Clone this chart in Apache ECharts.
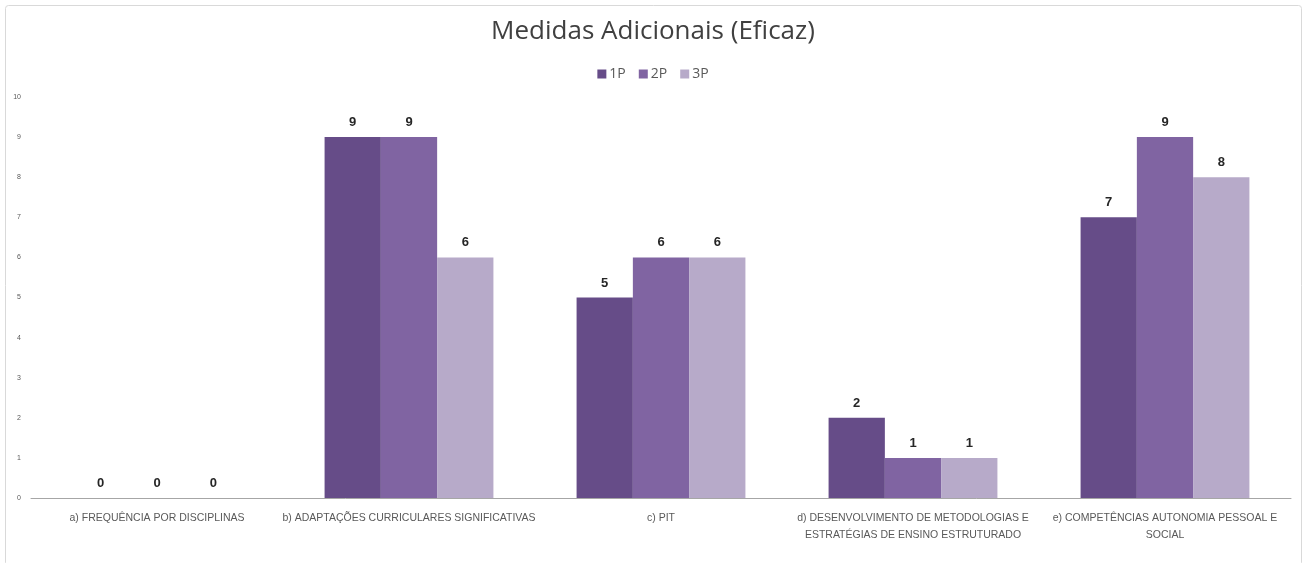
<!DOCTYPE html>
<html>
<head>
<meta charset="utf-8">
<script src="https://cdn.jsdelivr.net/npm/echarts@6/dist/echarts.min.js"></script>
<style>
  html, body { margin: 0; padding: 0; background: #fff; }
  #chart { width: 1306px; height: 563px; }
</style>
</head>
<body>
<div id="chart"></div>
<script>
// Categories and per-period counts
const categories = [
  'a) FREQUÊNCIA POR DISCIPLINAS',
  'b) ADAPTAÇÕES CURRICULARES SIGNIFICATIVAS',
  'c) PIT',
  'd) DESENVOLVIMENTO DE METODOLOGIAS E\nESTRATÉGIAS DE ENSINO ESTRUTURADO',
  'e) COMPETÊNCIAS AUTONOMIA PESSOAL E\nSOCIAL'
];
const seriesNames = ['1P', '2P', '3P'];
const values1P = [0, 9, 5, 2, 7];
const values2P = [0, 9, 6, 1, 9];
const values3P = [0, 6, 6, 1, 8];
const yTicks = [0, 1, 2, 3, 4, 5, 6, 7, 8, 9, 10];

const colors = ['#664c88', '#8064a2', '#b7aac9'];
const allValues = [values1P, values2P, values3P];

const chart = echarts.init(document.getElementById('chart'), null, { renderer: 'canvas' });

const labelStyle = {
  show: true,
  position: 'top',
  distance: 8,
  color: '#262626',
  fontWeight: 'bold',
  fontSize: 13,
  fontFamily: '"Liberation Sans", Arial, sans-serif'
};

chart.setOption({
  backgroundColor: '#ffffff',
  animation: false,
  color: colors,
  title: {
    text: 'Medidas Adicionais (Eficaz)',
    left: 'center',
    top: 14,
    textStyle: {
      fontFamily: '"Open Sans", "Noto Sans", sans-serif',
      fontWeight: 'normal',
      fontSize: 26,
      color: '#404040'
    }
  },
  legend: {
    data: seriesNames,
    top: 62,
    left: 'center',
    itemWidth: 9,
    itemHeight: 9,
    itemGap: 13,
    icon: 'rect',
    textStyle: {
      fontFamily: '"Open Sans", "Noto Sans", sans-serif',
      fontSize: 14,
      color: '#595959',
      padding: [0, 0, 0, -2]
    }
  },
  graphic: [{
    type: 'rect',
    shape: { x: 5.5, y: 5.5, width: 1296, height: 560, r: 3 },
    style: { fill: 'none', stroke: '#d9d9d9', lineWidth: 1 },
    silent: true
  }],
  grid: {
    left: 31,
    right: 15,
    top: 97,
    bottom: 65,
    containLabel: false
  },
  xAxis: {
    type: 'category',
    data: categories,
    axisLine: { show: true, lineStyle: { color: '#a6a6a6', width: 1 } },
    axisTick: { show: false },
    axisLabel: {
      interval: 0,
      margin: 12,
      color: '#595959',
      fontSize: 10.5,
      lineHeight: 17,
      fontFamily: '"Liberation Sans", Arial, sans-serif',
      align: 'center'
    }
  },
  yAxis: {
    type: 'value',
    min: yTicks[0],
    max: yTicks[yTicks.length - 1],
    interval: 1,
    axisLine: { show: false },
    axisTick: { show: false },
    splitLine: { show: false },
    axisLabel: {
      color: '#595959',
      fontSize: 7,
      margin: 10,
      fontFamily: '"Liberation Sans", Arial, sans-serif'
    }
  },
  series: seriesNames.map((name, i) => ({
    name: name,
    type: 'bar',
    data: allValues[i],
    barGap: '0%',
    barCategoryGap: '33%',
    itemStyle: { color: colors[i] },
    label: labelStyle
  }))
});
</script>
</body>
</html>
